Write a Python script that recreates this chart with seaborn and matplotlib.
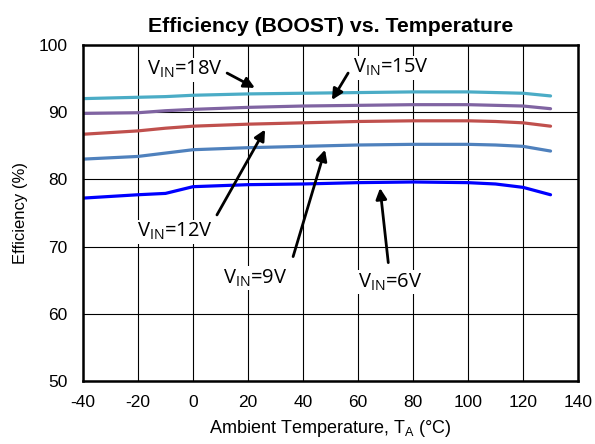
import numpy as np
import pandas as pd
import matplotlib
matplotlib.use('Agg')
import matplotlib.pyplot as plt
import seaborn as sns

# temperature points (deg C)
temp = [-40, -20, -10, 0, 20, 40, 60, 80, 100, 110, 120, 130]

# efficiency (%) for each input voltage
eff_18v = [92.0, 92.2, 92.3, 92.5, 92.7, 92.8, 92.9, 93.0, 93.0, 92.9, 92.8, 92.4]
eff_15v = [89.8, 89.9, 90.2, 90.4, 90.7, 90.9, 91.0, 91.1, 91.1, 91.0, 90.9, 90.5]
eff_12v = [86.7, 87.2, 87.6, 87.9, 88.2, 88.4, 88.6, 88.7, 88.7, 88.6, 88.4, 87.9]
eff_9v = [83.0, 83.4, 83.9, 84.4, 84.7, 84.9, 85.1, 85.2, 85.2, 85.1, 84.9, 84.2]
eff_6v = [77.2, 77.7, 77.9, 78.9, 79.2, 79.3, 79.5, 79.6, 79.5, 79.3, 78.8, 77.7]

series = ['18V', '15V', '12V', '9V', '6V']
colors = ['#4BACC6', '#8064A2', '#C0504D', '#4F81BD', '#0000FF']

rows = []
for name, vals in zip(series, [eff_18v, eff_15v, eff_12v, eff_9v, eff_6v]):
    for t, e in zip(temp, vals):
        rows.append({'T': t, 'eff': e, 'vin': name})
df = pd.DataFrame(rows)

sns.set_style('white', {'text.color': 'black', 'axes.labelcolor': 'black',
                        'xtick.color': 'black', 'ytick.color': 'black'})
plt.rcParams['font.family'] = ['Liberation Sans', 'DejaVu Sans']
plt.rcParams['axes.unicode_minus'] = False

fig = plt.figure(figsize=(5.95, 4.44), dpi=100)
ax = fig.add_axes([0.1395, 0.142, 0.832, 0.757])

sns.lineplot(data=df, x='T', y='eff', hue='vin', hue_order=series,
             palette=colors, linewidth=2.3, legend=False, ax=ax)

ax.set_xlim(-40, 140)
ax.set_ylim(50, 100)
ax.set_xticks(np.arange(-40, 141, 20))
ax.set_yticks(np.arange(50, 101, 10))
ax.grid(True, color='black', linewidth=0.8)
ax.set_axisbelow(True)
for s in ax.spines.values():
    s.set_color('black')
    s.set_linewidth(1.8)
ax.tick_params(length=0, labelsize=12.5, labelcolor='black')
ax.tick_params(axis='y', pad=11)
ax.tick_params(axis='x', pad=10)

ax.set_title('Efficiency (BOOST) vs. Temperature', fontsize=15.3, fontweight='bold',
             pad=9, color='black')
ax.set_xlabel('Ambient Temperature, T$_{\\mathregular{A}}$ (\u00b0C)', fontsize=13,
              labelpad=6, color='black')
ax.set_ylabel('Efficiency (%)', fontsize=12, labelpad=8, color='black')

# label text position, arrow tail, arrow head
notes = [
    ('18V', (-3.1, 96.3), (12.4, 95.8), (22.5, 93.6)),
    ('15V', (72.0, 96.6), (56.4, 95.8), (50.5, 91.8)),
    ('12V', (-6.5, 72.2), (8.7, 74.7), (26.2, 87.4)),
    ('9V', (22.5, 65.3), (36.4, 68.5), (48.0, 84.4)),
    ('6V', (71.6, 64.7), (71.0, 67.6), (68.0, 78.7)),
]
for v, txt, tail, head in notes:
    ax.text(txt[0], txt[1], 'V$_{\\mathregular{IN}}$=' + v, fontsize=14.5, color='black',
            family=['Open Sans', 'DejaVu Sans'], ha='center', va='center',
            bbox=dict(facecolor='white', edgecolor='none', pad=1))
    ax.annotate('', xy=head, xytext=tail,
                arrowprops=dict(arrowstyle='-|>', color='black', lw=2,
                                mutation_scale=16, shrinkA=0, shrinkB=0))

fig.savefig('out.png', dpi=100)
